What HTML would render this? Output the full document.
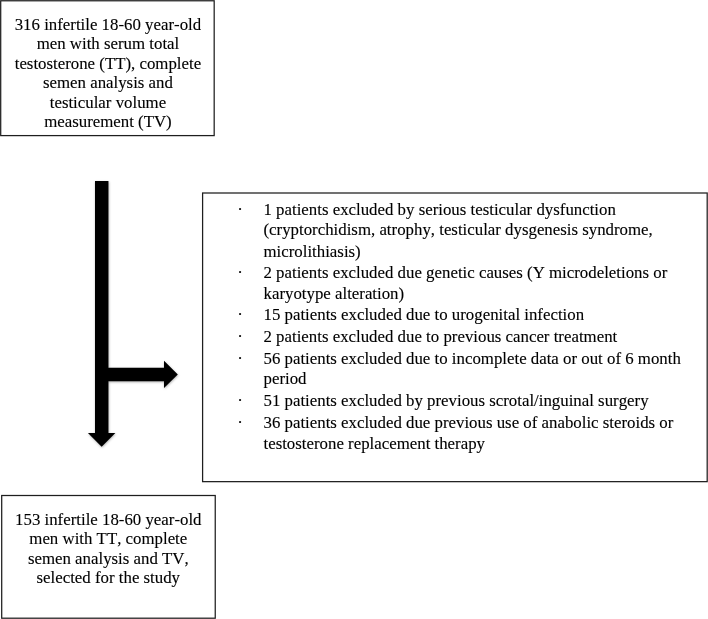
<!DOCTYPE html>
<html lang="en">
<head>
<meta charset="utf-8">
<title>Patient selection flowchart</title>
<style>
html,body{margin:0;padding:0;background:#fff;}
#fig{position:relative;width:708px;height:619px;overflow:hidden;background:#fff;
 font-family:"Liberation Serif","Times New Roman",serif;font-size:16.835px;line-height:20px;color:#000;
 font-kerning:none;will-change:transform;-webkit-text-stroke:0.12px #000;}
#fig svg{position:absolute;left:0;top:0;}
.l{position:absolute;white-space:nowrap;height:20px;}
.c1{left:0.7px;width:214.5px;text-align:center;}
.c3{left:1.3px;width:214px;text-align:center;}
.r{left:263.5px;}
.b{left:237.35px;}
</style>
</head>
<body>
<div id="fig">
<svg width="708" height="619" viewBox="0 0 708 619">
 <defs>
  <filter id="sh" x="-20%" y="-20%" width="150%" height="150%">
   <feDropShadow dx="0.4" dy="0.9" stdDeviation="0.9" flood-color="#000" flood-opacity="0.33"/>
  </filter>
 </defs>
 <g fill="none" stroke="#1e1e1e" stroke-width="1.25">
  <rect x="0.7" y="0.77" width="213.48" height="134.83"/>
  <rect x="202.6" y="193" width="504.59" height="288.65"/>
  <rect x="1.7" y="495.5" width="213.54" height="122.7"/>
 </g>
 <g fill="#000" filter="url(#sh)">
  <path d="M95 181 H108.45 V367.8 H164 V360.8 L177.8 374.4 L164 388.1 V381.2 H108.45 V433 H115.35 L101.65 446.75 L87.95 433 H95 Z"/>
 </g>
</svg>

<div class="l c1" style="top:15px">316 infertile 18-60 year-old</div>
<div class="l c1" style="top:34px">men with serum total</div>
<div class="l c1" style="top:54px">testosterone (TT), complete</div>
<div class="l c1" style="top:73px">semen analysis and</div>
<div class="l c1" style="top:93px">testicular volume</div>
<div class="l c1" style="top:112px">measurement (TV)</div>
<div class="l b" style="top:200px">&middot;</div>
<div class="l r" style="top:200px">1 patients excluded by serious testicular dysfunction</div>
<div class="l r" style="top:220px">(cryptorchidism, atrophy, testicular dysgenesis syndrome,</div>
<div class="l r" style="top:242px">microlithiasis)</div>
<div class="l b" style="top:263px">&middot;</div>
<div class="l r" style="top:263px">2 patients excluded due genetic causes (Y microdeletions or</div>
<div class="l r" style="top:284px">karyotype alteration)</div>
<div class="l b" style="top:305px">&middot;</div>
<div class="l r" style="top:305px">15 patients excluded due to urogenital infection</div>
<div class="l b" style="top:327px">&middot;</div>
<div class="l r" style="top:327px">2 patients excluded due to previous cancer treatment</div>
<div class="l b" style="top:349px">&middot;</div>
<div class="l r" style="top:349px">56 patients excluded due to incomplete data or out of 6 month</div>
<div class="l r" style="top:369px">period</div>
<div class="l b" style="top:391px">&middot;</div>
<div class="l r" style="top:391px">51 patients excluded by previous scrotal/inguinal surgery</div>
<div class="l b" style="top:413px">&middot;</div>
<div class="l r" style="top:413px">36 patients excluded due previous use of anabolic steroids or</div>
<div class="l r" style="top:434px">testosterone replacement therapy</div>
<div class="l c3" style="top:510px">153 infertile 18-60 year-old</div>
<div class="l c3" style="top:529px">men with TT, complete</div>
<div class="l c3" style="top:549px">semen analysis and TV,</div>
<div class="l c3" style="top:568px">selected for the study</div>
</div>
</body>
</html>
